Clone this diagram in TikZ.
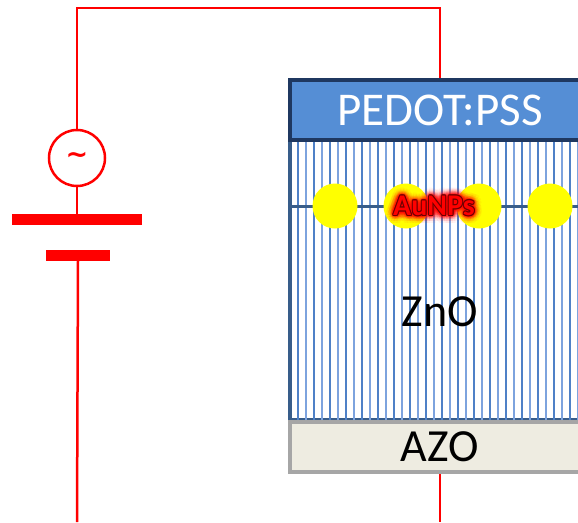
\documentclass[tikz,border=0pt]{standalone}
\usepackage{fontspec}
\setmainfont{Carlito}
\newfontfamily\symbolfont{DejaVu Sans}
\usetikzlibrary{positioning}

\definecolor{wirered}{RGB}{255,0,0}
\definecolor{pedotblue}{RGB}{85,142,213}
\definecolor{pedotedge}{RGB}{31,56,96}
\definecolor{rodblue}{RGB}{79,129,199}
\definecolor{rodlight}{RGB}{125,163,222}
\definecolor{znoedge}{RGB}{56,93,138}
\definecolor{azofill}{RGB}{238,236,225}
\definecolor{azoedge}{RGB}{166,166,166}
\definecolor{npyellow}{RGB}{255,255,0}
\definecolor{npdark}{RGB}{110,0,0}

\tikzset{
  wire/.style={draw=wirered, line width=2.5pt},
  plate/.style={rectangle, fill=wirered, inner sep=0pt, minimum height=11pt},
  layer/.style={rectangle, inner sep=0pt, minimum width=300pt, line width=4pt},
  np/.style={circle, fill=npyellow, inner sep=0pt, minimum size=45pt},
  rod/.style={line width=2pt},
  nplabel/.style={font=\fontsize{30}{30}\selectfont\bfseries, inner sep=0pt},
  big/.style={font=\fontsize{46}{46}\selectfont},
}

\begin{document}
\begin{tikzpicture}[x=1pt,y=-1pt]
\useasboundingbox (0,0) rectangle (578,522);

% AC source and battery
\node[circle, draw=wirered, line width=2.5pt, minimum size=56pt, inner sep=0pt,
      text=wirered, font=\fontsize{27}{27}\selectfont\symbolfont\bfseries] (src) at (77,158) {∼};
\node[plate, minimum width=130pt] (plateL) at (77,219.5) {};
\node[plate, minimum width=64pt] (plateS) at (78,255.5) {};

\begin{scope}
\clip (0,0) rectangle (578,522);
% ZnO nanorods
\node[layer, draw=znoedge, fill=white, minimum height=280pt] (zno) at (440,280) {};
\begin{scope}
\clip (292,142) rectangle (588,420);
\foreach \x in {298,314,...,590}
  \draw[rod, rodblue] (\x,140) -- (\x,422);
\foreach \x in {306,322,...,590}
  \draw[rod, rodlight] (\x,140) -- (\x,422);
\end{scope}
\draw[znoedge, line width=3pt] (zno.west |- 0,206) -- (zno.east |- 0,206);

% top and bottom contacts
\node[layer, draw=pedotedge, fill=pedotblue, minimum height=60pt, text=white,
      font=\fontsize{47}{47}\selectfont] (pedot) at (440,110) {PEDOT:PSS};
\node[layer, draw=azoedge, fill=azofill, minimum height=50pt, big] (azo) at (440,447) {AZO};

% gold nanoparticles
\foreach \x/\n in {335/1,406/2,479/3,550/4}
  \node[np] (np\n) at (\x,206) {};
\end{scope}

\node[big] (znolbl) at (440,312) {ZnO};

% glowing label
\foreach \r/\o in {8/0.05,6/0.08,4/0.12,2.5/0.2}
  \foreach \a in {0,22.5,...,337.5}
    \node[nplabel, text=red, text opacity=\o, shift={(\a:\r)}] at (434,206) {AuNPs};
\foreach \a in {0,45,...,315}
  \node[nplabel, text=npdark, shift={(\a:1)}] at (434,206) {AuNPs};
\node[nplabel, text=red] (nplbl) at (434,206) {AuNPs};

% circuit wires
\coordinate (tl) at (77,8);
\coordinate (tr) at (440,8);
\coordinate (bl) at (77,522);
\coordinate (br) at (440,522);
\draw[wire] (src.north) -- (tl) -- (tr) -- (pedot.north);
\draw[wire] (src.south) -- (plateL.north);
\draw[wire] (plateS.south) -- (bl);
\draw[wire] (azo.south) -- (br);
\end{tikzpicture}
\end{document}
